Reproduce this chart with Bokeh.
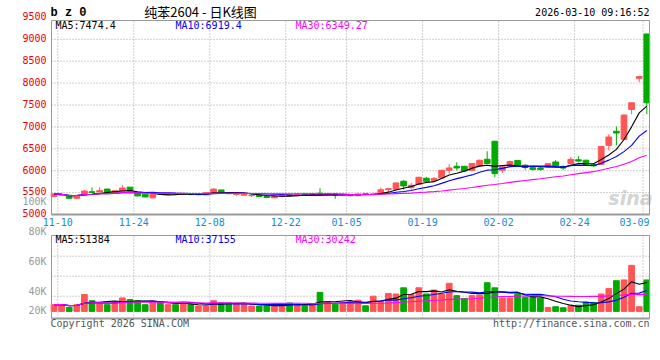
import pandas as pd
from bokeh.plotting import figure
from bokeh.models import Label, Range1d
from bokeh.embed import file_html
from bokeh.resources import INLINE

# ---------------- data ----------------
dates = ["11-07",
         "11-10", "11-11", "11-12", "11-13", "11-14",
         "11-17", "11-18", "11-19", "11-20", "11-21",
         "11-24", "11-25", "11-26", "11-27", "11-28",
         "12-01", "12-02", "12-03", "12-04", "12-05",
         "12-08", "12-09", "12-10", "12-11", "12-12",
         "12-15", "12-16", "12-17", "12-18", "12-19",
         "12-22", "12-23", "12-24", "12-25", "12-26",
         "12-29", "12-30", "12-31",
         "01-05", "01-06", "01-07", "01-08", "01-09",
         "01-12", "01-13", "01-14", "01-15", "01-16",
         "01-19", "01-20", "01-21", "01-22", "01-23",
         "01-26", "01-27", "01-28", "01-29", "01-30",
         "02-02", "02-03", "02-04", "02-05", "02-06",
         "02-09", "02-10", "02-11", "02-12", "02-13",
         "02-24", "02-25", "02-26", "02-27",
         "03-02", "03-03", "03-04", "03-05", "03-06",
         "03-09"]

opens = [5415, 5440, 5440, 5370, 5440, 5520, 5515, 5580, 5495, 5540,
         5625, 5490, 5465, 5380, 5480, 5455, 5480, 5455, 5465, 5450,
         5450, 5485, 5560, 5500, 5460, 5440, 5430, 5445, 5410, 5380,
         5410, 5450, 5430, 5470, 5440, 5485, 5445, 5470, 5440, 5430,
         5430, 5475, 5450, 5495, 5570, 5576, 5760, 5614, 5690, 5827,
         5781, 5834, 6009, 6101, 6101, 6009, 6109, 6261, 6672, 6010,
         6110, 6235, 6125, 6070, 6060, 6085, 6200, 6095, 6160, 6250,
         6240, 6140, 6145, 6580, 6900, 6710, 7400, 8110, 9120]
highs = [5490, 5470, 5450, 5445, 5560, 5620, 5620, 5590, 5550, 5670,
         5630, 5500, 5475, 5475, 5495, 5490, 5490, 5480, 5475, 5475,
         5510, 5600, 5565, 5510, 5480, 5470, 5455, 5450, 5420, 5430,
         5440, 5460, 5475, 5480, 5485, 5600, 5480, 5480, 5455, 5460,
         5480, 5480, 5480, 5615, 5592, 5730, 5781, 5720, 5860, 5857,
         5857, 6020, 6147, 6193, 6110, 6177, 6253, 6444, 6680, 6120,
         6230, 6245, 6145, 6090, 6100, 6170, 6240, 6125, 6310, 6330,
         6250, 6150, 6560, 6830, 7010, 7290, 7560, 8160, 9130]
lows = [5400, 5420, 5360, 5360, 5430, 5490, 5505, 5480, 5480, 5530,
        5530, 5410, 5390, 5370, 5455, 5445, 5450, 5445, 5440, 5440,
        5440, 5475, 5475, 5465, 5430, 5430, 5400, 5400, 5370, 5370,
        5390, 5420, 5420, 5440, 5430, 5440, 5430, 5360, 5430, 5420,
        5420, 5445, 5440, 5485, 5492, 5565, 5568, 5568, 5680, 5720,
        5743, 5825, 5933, 6009, 5985, 5995, 6100, 6150, 5857, 5950,
        6090, 6110, 6020, 6000, 6000, 6075, 6095, 6020, 6140, 6190,
        6130, 6090, 6130, 6460, 6580, 6700, 7290, 8020, 7290]
closes = [5470, 5455, 5370, 5435, 5535, 5500, 5545, 5495, 5540, 5605,
          5540, 5425, 5400, 5465, 5465, 5480, 5460, 5470, 5455, 5465,
          5500, 5580, 5485, 5475, 5470, 5465, 5440, 5410, 5390, 5420,
          5430, 5430, 5465, 5450, 5475, 5455, 5475, 5440, 5450, 5440,
          5470, 5455, 5470, 5565, 5590, 5720, 5652, 5667, 5850, 5759,
          5820, 6009, 6063, 6063, 5995, 6162, 6238, 6162, 5933, 6090,
          6210, 6125, 6075, 6030, 6030, 6160, 6110, 6060, 6260, 6220,
          6140, 6110, 6555, 6770, 6860, 7270, 7550, 8150, 7550]
volumes = [12000, 12000, 7000, 12000, 30000, 19000, 14000, 12000, 17000, 24000,
           21000, 19000, 12000, 17000, 17000, 12000, 12000, 14000, 12000, 9500,
           9500, 19000, 15000, 15000, 13000, 13000, 9500, 9500, 9500, 9500,
           13000, 15000, 13000, 9500, 13000, 34000, 17000, 13000, 16000, 17000,
           20000, 10000, 27000, 18000, 32000, 31000, 42000, 30000, 42000, 31000,
           38000, 31000, 50000, 28000, 23000, 28000, 29000, 51000, 42000, 23700,
           23700, 30800, 25500, 25500, 23700, 7000, 8300, 6500, 10000, 11000,
           16000, 16000, 31000, 40600, 54600, 56000, 82000, 8300, 56000]

tick_dates = ["11-10", "11-24", "12-08", "12-22", "01-05", "01-19", "02-02", "02-24", "03-09"]
price_ticks = [5000, 5500, 6000, 6500, 7000, 7500, 8000, 8500, 9000, 9500]
ma_windows = [5, 10, 30]
ma_main_text = ["MA5:7474.4", "MA10:6919.4", "MA30:6349.27"]
ma_vol_text = ["MA5:51384", "MA10:37155", "MA30:30242"]
vol_label_text = ["80K", "60K", "40K", "20K"]
stray_label = "100K"
title_symbol = "b z 0"
title_text = "纯苯2604 - 日K线图"
time_text = "2026-03-10 09:16:52"
copyright_text = "Copyright 2026 SINA.COM"
url_text = "http://finance.sina.com.cn"
watermark = "sina"

# ---------------- style / layout ----------------
MONO = "DejaVu Sans Mono"
RED = "#ff5555"
GREEN = "#00aa00"
MA_COLORS = ["#000000", "#0000ff", "#ff00ff"]
GRID = "#a0a0a0"
FRAME = "#999999"
TXT_RED = "#ee0000"
TXT_BLUE = "#1a8ad4"
TXT_GREY = "#999999"

W, H = 660, 360
PAGE_X0 = 49.7          # page x of the left edge of the first day slot
PX_DAY = 7.6            # px per trading day
XL = -PAGE_X0 / PX_DAY
XR = (W - PAGE_X0) / PX_DAY
XP0 = (51 - PAGE_X0) / PX_DAY      # panel left edge
XP1 = (649 - PAGE_X0) / PX_DAY     # panel right edge

PRICE_PX = 0.0438       # px per price unit
PRICE_BASE = 5000
PRICE_BASE_Y = 214      # page y of PRICE_BASE


def py(y):
    return PRICE_BASE + (PRICE_BASE_Y - y) / PRICE_PX


VOL_UNIT = 1780         # volume per px
VOL_BASE_Y = 310.9      # page y of zero volume


def vy(y):
    return (VOL_BASE_Y - y) * VOL_UNIT


P_LO, P_TOP = py(214), py(20)
V_BOT, V_TOP = vy(318), vy(235)
vol_grid_y = [255.7, 275.7, 295.7]
vol_label_y = [230.7, 260.7, 290.7, 310.0]

n = len(dates)
xs = [i + 0.5 for i in range(n)]
up = [c >= o for o, c in zip(opens, closes)]
cols = [RED if u else GREEN for u in up]
btop = [max(o, c) for o, c in zip(opens, closes)]
bbot = [min(o, c) for o, c in zip(opens, closes)]
cs = pd.Series(closes, dtype=float)
vs = pd.Series(volumes, dtype=float)

p = figure(width=W, height=H, x_range=Range1d(XL, XR), y_range=Range1d(py(H), py(0)),
           x_axis_location=None, y_axis_location=None, output_backend="svg",
           toolbar_location=None, min_border=0)
p.extra_y_ranges = {"vol": Range1d(vy(H), vy(0))}
p.outline_line_color = None
p.grid.visible = False
p.background_fill_color = "white"
p.border_fill_color = "white"


def lab(x, y, text, color, xo=0, yo=0, align="left", size="10px", font=MONO,
        style_="normal", rng="default", level="annotation"):
    p.add_layout(Label(x=x, y=y, x_offset=xo, y_offset=yo, text=text,
                       text_align=align, text_baseline="middle", y_range_name=rng,
                       text_font=font, text_font_size=size, text_color=color,
                       text_font_style=style_, level=level))


# watermark
lab(XP1, py(197), watermark, "#d4d4d4", xo=3, align="right", size="19px",
    font="DejaVu Sans", style_="bold italic", level="underlay")

# ---- grids ----
gx = [dates.index(d) for d in tick_dates]
grid_kw = dict(line_color=GRID, line_dash="1 2", line_width=1)
p.segment(gx, [P_LO] * len(gx), gx, [P_TOP] * len(gx), **grid_kw)
gy = [t for t in price_ticks if P_LO < t < P_TOP]
p.segment([XP0] * len(gy), gy, [XP1] * len(gy), gy, **grid_kw)
p.segment(gx, [V_BOT] * len(gx), gx, [V_TOP] * len(gx), y_range_name="vol", **grid_kw)
vg = [vy(y) for y in vol_grid_y]
p.segment([XP0] * len(vg), vg, [XP1] * len(vg), vg, y_range_name="vol", **grid_kw)

# ---- candles ----
p.segment(xs, lows, xs, highs, color=cols, line_width=1)
p.vbar(x=xs, width=0.75, top=btop, bottom=bbot, fill_color=cols, line_color=cols,
       line_width=1)
for w, c in zip(ma_windows, MA_COLORS):
    p.line(xs, cs.rolling(w, min_periods=1).mean().tolist(), line_color=c, line_width=1.1)

# ---- volume ----
p.vbar(x=xs, width=0.75, top=volumes, bottom=0, fill_color=cols, line_color=cols,
       line_width=1, y_range_name="vol")
for w, c in zip(ma_windows, MA_COLORS):
    p.line(xs, vs.rolling(w, min_periods=1).mean().tolist(), line_color=c,
           line_width=1.1, y_range_name="vol")

# ---- panel frames ----
p.quad(left=[XP0], right=[XP1], bottom=[P_LO], top=[P_TOP], fill_color=None,
       line_color=FRAME, line_width=1)
p.segment([XP0], [P_LO], [XP1], [P_LO], line_color=FRAME, line_width=2)
p.quad(left=[XP0], right=[XP1], bottom=[V_BOT], top=[V_TOP], fill_color=None,
       line_color=FRAME, line_width=1, y_range_name="vol")
p.segment([XP0], [V_BOT], [XP1], [V_BOT], line_color=FRAME, line_width=2,
          y_range_name="vol")

# ---- tick labels ----
for t in price_ticks:
    lab(XP0, t, str(t), TXT_RED, xo=-5, yo=1.2, align="right")
lab(XP0, py(200.7), stray_label, TXT_GREY, xo=-5, align="right")
for d in tick_dates[:-1]:
    lab(dates.index(d), P_LO, d, TXT_BLUE, yo=-7.7, align="center")
lab(XP1, P_LO, tick_dates[-1], TXT_BLUE, yo=-7.7, align="right")
for t, y in zip(vol_label_text, vol_label_y):
    lab(XP0, vy(y), t, TXT_GREY, xo=-5, align="right", rng="vol")

# ---- legends / titles ----
for t, c, xo in zip(ma_main_text, MA_COLORS, [4, 124, 244]):
    lab(XP0, P_TOP, t, c, xo=xo, yo=-4.5)
for t, c, xo in zip(ma_vol_text, MA_COLORS, [4, 124, 244]):
    lab(XP0, V_TOP, t, c, xo=xo, yo=-3.5, rng="vol")

lab(XP0, py(12), title_symbol, "#000000", xo=-1, size="12px",
    font="Liberation Mono", style_="bold")
lab(XP0, py(10.5), title_text, "#000000", xo=149, align="center", size="13px",
    font="Noto Sans CJK SC")
lab(XP1, py(12.3), time_text, "#000000", align="right")
lab(XP0, vy(323.3), copyright_text, "#555555", xo=-1, rng="vol")
lab(XP1, vy(323.3), url_text, "#555555", rng="vol", align="right")

open("out.html", "w").write(file_html(p, INLINE))
